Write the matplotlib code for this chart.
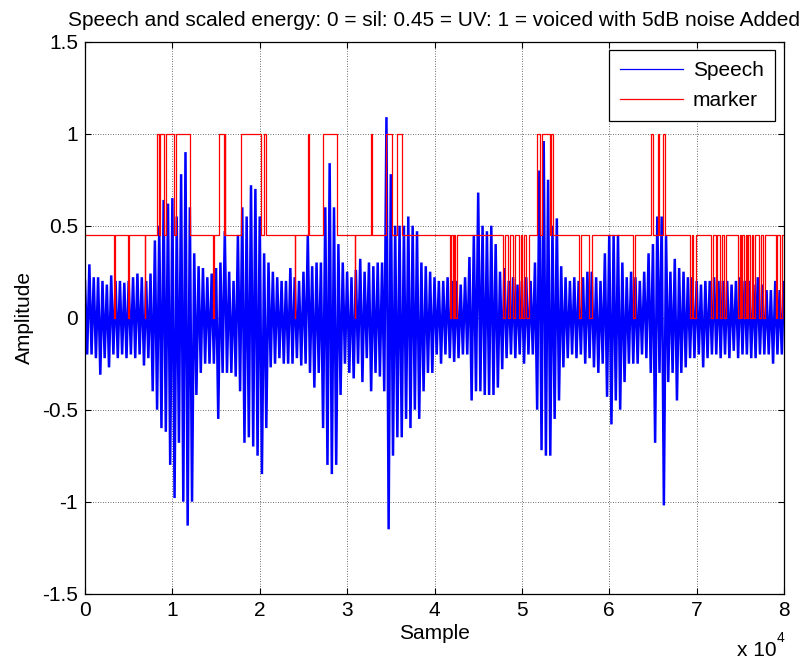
import numpy as np
import matplotlib
matplotlib.use("Agg")
import matplotlib.pyplot as plt

plt.rcParams['font.family'] = ['Liberation Sans', 'DejaVu Sans']
plt.rcParams['path.simplify'] = False

# ---------------- data ----------------
# speech waveform: positive / negative peak amplitude every 500 samples
speech_x = list(range(0, 80001, 500))
speech_upper = [
    0.20, 0.29, 0.22, 0.22, 0.20, 0.18, 0.23, 0.20, 0.20, 0.19,
    0.20, 0.22, 0.24, 0.22, 0.20, 0.24, 0.42, 0.50, 0.64, 0.62,
    0.65, 0.55, 0.78, 0.90, 0.60, 0.35, 0.28, 0.27, 0.22, 0.24,
    0.27, 0.30, 0.47, 0.25, 0.20, 0.45, 0.60, 0.55, 0.72, 0.70,
    0.55, 0.35, 0.30, 0.25, 0.22, 0.20, 0.20, 0.27, 0.22, 0.20,
    0.25, 0.45, 0.28, 0.30, 0.30, 0.60, 0.84, 0.60, 0.40, 0.30,
    0.25, 0.22, 0.26, 0.32, 0.25, 0.30, 0.28, 0.30, 0.30, 1.09,
    0.78, 0.50, 0.50, 0.50, 0.55, 0.50, 0.47, 0.30, 0.28, 0.25,
    0.22, 0.20, 0.20, 0.22, 0.20, 0.20, 0.18, 0.22, 0.33, 0.45,
    0.68, 0.50, 0.47, 0.50, 0.40, 0.25, 0.27, 0.20, 0.22, 0.18,
    0.20, 0.22, 0.20, 0.30, 0.80, 0.96, 0.75, 0.50, 0.54, 0.28,
    0.22, 0.20, 0.22, 0.20, 0.22, 0.25, 0.25, 0.22, 0.20, 0.35,
    0.45, 0.45, 0.45, 0.30, 0.22, 0.25, 0.22, 0.20, 0.25, 0.35,
    0.40, 0.55, 0.55, 0.45, 0.25, 0.32, 0.27, 0.25, 0.22, 0.22,
    0.20, 0.18, 0.20, 0.20, 0.22, 0.20, 0.20, 0.20, 0.18, 0.20,
    0.22, 0.20, 0.20, 0.18, 0.22, 0.18, 0.15, 0.15, 0.20, 0.15,
    0.20]
speech_lower = [
    -0.20, -0.20, -0.22, -0.31, -0.22, -0.27, -0.20, -0.22, -0.20, -0.22,
    -0.20, -0.22, -0.20, -0.26, -0.22, -0.40, -0.50, -0.60, -0.62, -0.80,
    -0.98, -0.68, -1.00, -1.13, -1.00, -0.42, -0.30, -0.25, -0.25, -0.25,
    -0.55, -0.30, -0.30, -0.30, -0.32, -0.40, -0.68, -0.65, -0.70, -0.75,
    -0.85, -0.60, -0.27, -0.25, -0.22, -0.25, -0.25, -0.25, -0.22, -0.26,
    -0.25, -0.30, -0.38, -0.30, -0.60, -0.80, -0.85, -0.80, -0.42, -0.25,
    -0.30, -0.33, -0.25, -0.35, -0.22, -0.40, -0.30, -0.32, -0.40, -1.15,
    -0.75, -0.65, -0.65, -0.55, -0.60, -0.50, -0.55, -0.40, -0.30, -0.30,
    -0.20, -0.25, -0.20, -0.22, -0.24, -0.22, -0.20, -0.20, -0.45, -0.40,
    -0.40, -0.42, -0.42, -0.42, -0.38, -0.28, -0.22, -0.20, -0.22, -0.20,
    -0.25, -0.20, -0.20, -0.50, -0.72, -0.75, -0.75, -0.55, -0.45, -0.27,
    -0.22, -0.20, -0.22, -0.20, -0.25, -0.22, -0.27, -0.30, -0.25, -0.43,
    -0.58, -0.45, -0.50, -0.35, -0.25, -0.25, -0.25, -0.20, -0.22, -0.30,
    -0.68, -0.30, -1.02, -0.35, -0.30, -0.45, -0.30, -0.27, -0.22, -0.22,
    -0.20, -0.27, -0.22, -0.20, -0.20, -0.22, -0.20, -0.22, -0.18, -0.22,
    -0.20, -0.20, -0.22, -0.22, -0.20, -0.20, -0.20, -0.25, -0.20, -0.20,
    -0.15]

# marker: default level is UV (0.45); segments (start, end, level)
marker_base = 0.45
marker_segments = [
    (3340, 3400, 0), (4887, 5040, 0), (6850, 6910, 0),
    (8285, 8476, 1), (8620, 9087, 1), (9250, 10194, 1), (10385, 12065, 1),
    (14662, 14780, 0),
    (15311, 15922, 1), (16000, 16075, 1),
    (17907, 20140, 1), (20465, 20733, 1),
    (24000, 24060, 0), (25543, 25620, 1),
    (27225, 28829, 1), (30870, 30930, 0), (32723, 32800, 1),
    (34403, 35090, 1), (35663, 36236, 1),
    (41734, 41925, 0), (42078, 42230, 0), (42383, 42574, 0),
    (47843, 48072, 0), (48377, 48645, 0), (48950, 49218, 0),
    (49637, 49866, 0), (50019, 50210, 0), (50515, 50859, 0),
    (51738, 52100, 1), (52250, 53190, 1), (53380, 53575, 1),
    (56510, 56739, 0), (57731, 58037, 0), (62771, 63000, 0),
    (64795, 64990, 1), (65560, 65750, 1), (66130, 66330, 1),
    (69228, 69420, 0), (69610, 69916, 0), (71596, 71901, 0),
    (72207, 72360, 0), (72665, 72857, 0), (73124, 73314, 0),
    (74765, 74960, 0), (75030, 75223, 0), (75414, 75605, 0),
    (75796, 75910, 0), (76100, 76290, 0), (76480, 76635, 0),
    (77131, 77322, 0), (77628, 77819, 0), (79079, 79232, 0),
    (79537, 79728, 0),
]

x_ticks = [0, 10000, 20000, 30000, 40000, 50000, 60000, 70000, 80000]
x_tick_labels = ['0', '1', '2', '3', '4', '5', '6', '7', '8']
y_ticks = [-1.5, -1, -0.5, 0, 0.5, 1, 1.5]
y_tick_labels = ['-1.5', '-1', '-0.5', '0', '0.5', '1', '1.5']

title_text = 'Speech and scaled energy: 0 = sil: 0.45 = UV: 1 = voiced with 5dB noise Added'

# ---------------- build line data ----------------
sx = np.asarray(speech_x, dtype=float)
wx = np.empty(2 * len(sx))
wy = np.empty(2 * len(sx))
wx[0::2] = sx
wx[1::2] = sx + 250
wy[0::2] = speech_upper
wy[1::2] = speech_lower

mx = [0]
my = [marker_base]
for s, e, lev in sorted(marker_segments):
    mx += [s, e]
    my += [lev, marker_base]
mx.append(80000)
my.append(marker_base)

# ---------------- figure ----------------
W, H = 807, 661
fig = plt.figure(figsize=(W / 100, H / 100), dpi=100)
ax = fig.add_axes([85 / W, 1 - 593.7 / H, 699 / W, 552 / H])

ax.plot(wx, wy, color='#0000ff', lw=1.8, label='Speech', solid_joinstyle='miter')
ax.plot(mx, my, color='#ff0000', lw=0.9, drawstyle='steps-post', label='marker')

ax.set_xlim(0, 80000)
ax.set_ylim(-1.5, 1.5)
ax.set_xticks(x_ticks)
ax.set_xticklabels(x_tick_labels)
ax.set_yticks(y_ticks)
ax.set_yticklabels(y_tick_labels)
ax.tick_params(direction='in', length=4, width=0.8, top=True, right=True,
               labelsize=15, pad=5, colors='k')
ax.grid(True, linestyle=(0, (1, 2)), color='0.25', lw=0.6)
for sp in ax.spines.values():
    sp.set_linewidth(0.9)

ax.set_title(title_text, fontsize=15, pad=11)
ax.set_xlabel('Sample', fontsize=15, labelpad=3)
ax.set_ylabel('Amplitude', fontsize=15, labelpad=6)

fig.text(737 / W, 1 - 651 / H, 'x 10', fontsize=15, ha='left', va='center')
fig.text(777 / W, 1 - 638 / H, '4', fontsize=10, ha='left', va='center')

leg = ax.legend(loc='upper right', bbox_to_anchor=(0.9876, 0.985),
                borderaxespad=0, fontsize=15, handlelength=3.0,
                handletextpad=0.5, borderpad=0.55, labelspacing=0.5,
                fancybox=False, framealpha=1, edgecolor='k')
leg.get_frame().set_linewidth(0.9)
for ln in leg.get_lines():
    ln.set_linewidth(0.9)

fig.savefig('out.png', dpi=100)
